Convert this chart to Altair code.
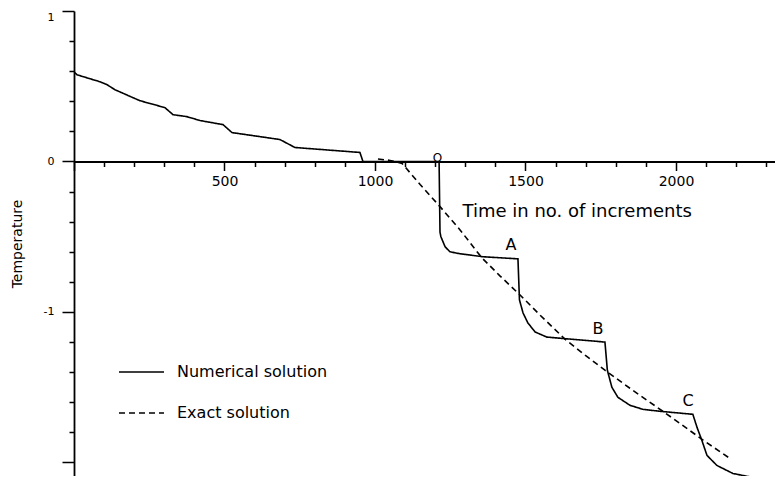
import altair as alt
import pandas as pd

# ---- data ----
num_t = [0, 10, 86, 110, 136, 196, 219, 302, 329, 375, 419, 495, 525, 684, 734, 950, 960,
         1213, 1216, 1219, 1233, 1249, 1282, 1359, 1475, 1480, 1492, 1508, 1532, 1571, 1648,
         1764, 1772, 1787, 1807, 1847, 1890, 1947, 2056, 2070, 2086, 2103, 2136, 2189, 2256, 2355]
num_T = [0.596, 0.576, 0.53, 0.51, 0.477, 0.424, 0.404, 0.358, 0.311, 0.298, 0.272, 0.245, 0.192,
         0.146, 0.093, 0.06, 0.0,
         0.0, -0.47, -0.5, -0.567, -0.6, -0.613, -0.633, -0.647, -0.92, -1.007, -1.073, -1.133,
         -1.167, -1.18,
         -1.2, -1.387, -1.5, -1.567, -1.62, -1.647, -1.66, -1.68, -1.767, -1.853, -1.953, -2.02,
         -2.073, -2.1, -2.113]

exact_t = [1010, 1050, 1090, 1150, 1216, 1282, 1355, 1415, 1482, 1548, 1631, 1698, 1764, 1847,
           1937, 2013, 2096, 2179]
exact_T = [0.017, 0.007, -0.013, -0.153, -0.3, -0.453, -0.64, -0.76, -0.887, -1.02, -1.18,
           -1.287, -1.387, -1.507, -1.633, -1.74, -1.86, -1.973]

series_names = ["Numerical solution", "Exact solution"]

origin_label = ["O"]
origin_t = [1208]
origin_T = [0.02]

point_labels = ["A", "B", "C"]
point_t = [1452, 1741, 2040]
point_T = [-0.557, -1.113, -1.593]

x_tick_values = list(range(0, 2400, 100))
y_tick_values = [round(-2 + 0.2 * i, 1) for i in range(16)]

x_title = "Time in no. of increments"
y_title = "Temperature"

# ---- layout constants ----
FONT = "DejaVu Sans"
W, H = 701, 465
X_MAX = 2329
Y_MIN, Y_MAX = -2.09, 1.0
y0_px = H * Y_MAX / (Y_MAX - Y_MIN)

rows = []
for i, (t, v) in enumerate(zip(num_t, num_T)):
    rows.append({"t": t, "T": v, "series": series_names[0], "i": i})
for i, (t, v) in enumerate(zip(exact_t, exact_T)):
    rows.append({"t": t, "T": v, "series": series_names[1], "i": i})
lines_df = pd.DataFrame(rows)
labels_df = pd.DataFrame({"t": point_t, "T": point_T, "label": point_labels})
origin_df = pd.DataFrame({"t": origin_t, "T": origin_T, "label": origin_label})

x_scale = alt.Scale(domain=[0, X_MAX], nice=False, zero=False)
y_scale = alt.Scale(domain=[Y_MIN, Y_MAX], nice=False, zero=False)

x_axis = alt.Axis(
    values=x_tick_values,
    tickCount=200,
    format="d",
    labelExpr="datum.value % 500 === 0 && datum.value > 0 ? datum.label : ''",
    tickSize={"condition": {"test": "datum.value % 500 === 0", "value": 9}, "value": 5},
    offset=-(H - y0_px),
    grid=False,
    domainColor="black", domainWidth=1.8,
    tickColor="black", tickWidth=1.5,
    labelFont=FONT, labelFontSize=14, labelColor="black", labelPadding=4,
    labelFlush=False, labelOverlap=False,
    title=x_title, titleFont=FONT, titleFontSize=18, titleFontWeight="normal",
    titleColor="black", titleAlign="left", titleBaseline="middle",
    titleX=388, titleY=50,
)

y_axis = alt.Axis(
    values=y_tick_values,
    tickCount=200,
    labelExpr="abs(datum.value - round(datum.value)) < 0.01 && datum.value > -1.5 ? replace(format(datum.value, 'd'), '\u2212', '-') : ''",
    tickSize={"condition": {"test": "abs(datum.value - round(datum.value)) < 0.01", "value": 12},
              "value": 5},
    grid=False,
    domainColor="black", domainWidth=1.8,
    tickColor="black", tickWidth=1.5,
    labelFont=FONT, labelFontSize=11, labelColor="black", labelPadding=8,
    labelFlush=True, labelFlushOffset=0, labelOverlap=False,
    title=y_title, titleFont=FONT, titleFontSize=14, titleFontWeight="normal",
    titleColor="black", titlePadding=19,
)

X = alt.X("t:Q", scale=x_scale, axis=x_axis)
Y = alt.Y("T:Q", scale=y_scale, axis=y_axis)

lines = alt.Chart(lines_df).mark_line(clip=True, color="black", strokeWidth=1.6).encode(
    x=X,
    y=Y,
    strokeDash=alt.StrokeDash(
        "series:N",
        scale=alt.Scale(domain=series_names, range=[[1, 0], [6, 4]]),
        legend=alt.Legend(
            title=None, orient="none", legendX=44, legendY=337.5,
            symbolType="stroke", symbolSize=2025, symbolStrokeWidth=1.6,
            symbolStrokeColor="black", labelFont=FONT, labelFontSize=16,
            labelColor="black", labelOffset=12, rowPadding=9, padding=0,
        ),
    ),
    order="i:Q",
)

texts = alt.Chart(labels_df).mark_text(font=FONT, fontSize=16, color="black",
                                       baseline="middle", align="center").encode(
    x=X, y=Y, text="label:N",
)

origin_text = alt.Chart(origin_df).mark_text(font=FONT, fontSize=12, color="black",
                                             baseline="middle", align="center").encode(
    x=X, y=Y, text="label:N",
)

chart = alt.layer(lines, texts, origin_text).properties(
    width=W, height=H,
    padding={"left": 66, "top": 3, "right": 0, "bottom": 0},
    autosize=alt.AutoSizeParams(type="none"),
    background="white",
).configure_view(stroke=None)

chart.save("out.html", embed_options={"renderer": "svg", "actions": False})
